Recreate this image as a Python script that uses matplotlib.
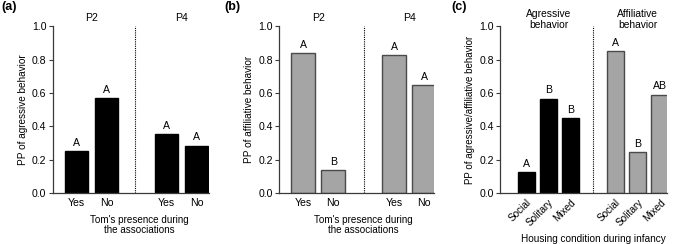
import matplotlib.pyplot as plt

plt.rcParams['font.family'] = ['Liberation Sans', 'DejaVu Sans']
plt.rcParams['font.size'] = 7

# panel (a) / (b): Tom's presence
tom_labels = ['Yes', 'No', 'Yes', 'No']
tom_groups = ['P2', 'P4']
aggr_tom = [0.25, 0.57, 0.355, 0.285]
aggr_tom_letters = ['A', 'A', 'A', 'A']
affil_tom = [0.84, 0.14, 0.828, 0.645]
affil_tom_letters = ['A', 'B', 'A', 'A']

# panel (c): housing condition
housing = ['Social', 'Solitary', 'Mixed']
behav_groups = ['Agressive\nbehavior', 'Affiliative\nbehavior']
aggr_housing = [0.125, 0.565, 0.45]
aggr_housing_letters = ['A', 'B', 'B']
affil_housing = [0.85, 0.245, 0.59]
affil_housing_letters = ['A', 'B', 'AB']

BLACK = '#000000'
GREY = '#a5a5a5'
EDGE_GREY = '#4a4a4a'
SPINE = '#3a3a3a'

fig = plt.figure(figsize=(6.77, 2.44), dpi=100)
ax_a = fig.add_axes([0.0778, 0.208, 0.231, 0.685])
ax_b = fig.add_axes([0.4126, 0.208, 0.2285, 0.685])
ax_c = fig.add_axes([0.7386, 0.208, 0.2467, 0.685])


def style(ax):
    ax.set_ylim(0, 1.0)
    ax.set_yticks([0, 0.2, 0.4, 0.6, 0.8, 1.0])
    ax.set_yticklabels(['0.0', '0.2', '0.4', '0.6', '0.8', '1.0'])
    for s in ['top', 'right']:
        ax.spines[s].set_visible(False)
    for s in ['left', 'bottom']:
        ax.spines[s].set_color(SPINE)
        ax.spines[s].set_linewidth(0.9)
    ax.tick_params(axis='y', length=3, width=0.8, color=SPINE, pad=1.5, labelsize=7.6)
    ax.tick_params(axis='x', length=0, pad=3.5, labelsize=7.6)


def letters(ax, xs, vals, labs):
    for x, v, l in zip(xs, vals, labs):
        ax.text(x, v + 0.02, l, ha='center', va='bottom', fontsize=7.6)


def xlabel_at(ax, text, xdata, yfrac, size):
    ax.set_xlabel(text, fontsize=size, va='center', linespacing=1.1)
    x0, x1 = ax.get_xlim()
    ax.xaxis.set_label_coords((xdata - x0) / (x1 - x0), yfrac)


pos = [0, 1, 3, 4]

# (a)
ax_a.bar(pos, aggr_tom, width=0.78, color=BLACK, edgecolor=BLACK)
letters(ax_a, pos, aggr_tom, aggr_tom_letters)
ax_a.set_xlim(-0.79, 4.42)
ax_a.axvline(1.95, color='k', ls=(0, (1, 1)), lw=0.8)
style(ax_a)
ax_a.set_xticks(pos)
ax_a.set_xticklabels(tom_labels)
ax_a.set_ylabel('PP of agressive behavior', fontsize=7.2, labelpad=3)
xlabel_at(ax_a, "Tom's presence during\nthe associations", 2.1, -0.19, 7.1)
for x, g in zip([0.5, 3.5], tom_groups):
    ax_a.text(x, 1.05, g, ha='center', va='center', fontsize=7.6)
fig.text(0.002, 0.971, '(a)', fontsize=9, fontweight='bold', va='center')

# (b)
ax_b.bar(pos, affil_tom, width=0.78, color=GREY, edgecolor=EDGE_GREY, linewidth=1.0)
letters(ax_b, pos, affil_tom, affil_tom_letters)
ax_b.set_xlim(-0.78, 4.32)
ax_b.axvline(2.0, color='k', ls=(0, (1, 1)), lw=0.8)
style(ax_b)
ax_b.set_xticks(pos)
ax_b.set_xticklabels(tom_labels)
ax_b.set_ylabel('PP of affiliative behavior', fontsize=7.2, labelpad=3)
xlabel_at(ax_b, "Tom's presence during\nthe associations", 2.0, -0.19, 7.1)
for x, g in zip([0.5, 3.5], tom_groups):
    ax_b.text(x, 1.05, g, ha='center', va='center', fontsize=7.6)
fig.text(0.332, 0.971, '(b)', fontsize=9, fontweight='bold', va='center')

# (c)
pos_l = [0, 1, 2]
pos_r = [4, 5, 6]
ax_c.bar(pos_l, aggr_housing, width=0.76, color=BLACK, edgecolor=BLACK)
ax_c.bar(pos_r, affil_housing, width=0.76, color=GREY, edgecolor=EDGE_GREY, linewidth=1.0)
letters(ax_c, pos_l, aggr_housing, aggr_housing_letters)
letters(ax_c, pos_r, affil_housing, affil_housing_letters)
ax_c.set_xlim(-1.17, 6.32)
ax_c.axvline(3.0, color='k', ls=(0, (1, 1)), lw=0.8)
style(ax_c)
ax_c.set_xticks(pos_l + pos_r)
ax_c.set_xticklabels(housing + housing, rotation=45, ha='right',
                     rotation_mode='anchor', fontsize=7.2)
ax_c.tick_params(axis='x', pad=3)
ax_c.set_ylabel('PP of agressive/affiliative behavior', fontsize=7.0, labelpad=3)
xlabel_at(ax_c, 'Housing condition during infancy', 3.0, -0.275, 7.2)
for x, g in zip([1, 5], behav_groups):
    ax_c.text(x, 1.04, g, ha='center', va='center', fontsize=7.4, linespacing=1.05)
fig.text(0.667, 0.971, '(c)', fontsize=9, fontweight='bold', va='center')

fig.savefig('out.png', dpi=100)
